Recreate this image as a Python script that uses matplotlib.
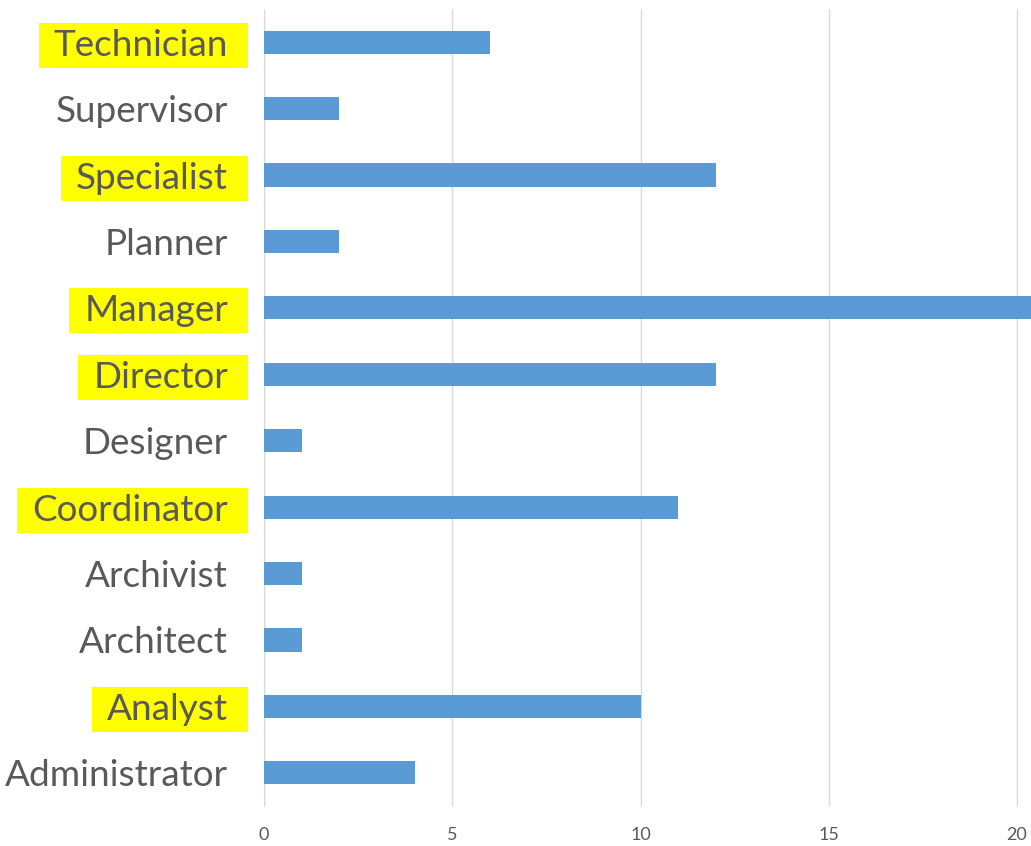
import matplotlib
matplotlib.use("Agg")
import matplotlib.pyplot as plt
from matplotlib.patches import Rectangle

categories = ["Administrator", "Analyst", "Architect", "Archivist", "Coordinator",
              "Designer", "Director", "Manager", "Planner", "Specialist",
              "Supervisor", "Technician"]
values = [4, 10, 1, 1, 11, 1, 12, 21, 2, 12, 2, 6]
highlighted = ["Analyst", "Coordinator", "Director", "Manager", "Specialist", "Technician"]
x_ticks = [0, 5, 10, 15, 20]

plt.rcParams['font.family'] = ['Lato', 'DejaVu Sans']
TXT = "#595959"

fig = plt.figure(figsize=(10.31, 8.46), dpi=100)
ax = fig.add_axes([264/1031, 1-806/846, 1-264/1031, (806-9)/846])

ypos = list(range(len(categories)))
ax.barh(ypos, values, height=0.35, color="#5B9BD5", zorder=3)
ax.set_xlim(0, 20.37)
ax.set_ylim(-0.5, len(categories)-0.5)
ax.set_xticks(x_ticks)
ax.set_xticklabels([str(t) for t in x_ticks], fontsize=13, color=TXT)
ax.set_yticks(ypos)
ax.set_yticklabels(categories, fontsize=26.6, color=TXT)
ax.tick_params(axis='y', length=0, pad=26)
ax.tick_params(axis='x', length=0, pad=15)
ax.grid(axis='x', color="#D9D9D9", linewidth=1, zorder=0)
for s in ["top", "right", "bottom"]:
    ax.spines[s].set_visible(False)
ax.spines["left"].set_color("#D9D9D9")
ax.spines["left"].set_zorder(1)

fig.canvas.draw()
renderer = fig.canvas.get_renderer()
for lab in ax.get_yticklabels():
    if lab.get_text() in highlighted:
        ext = lab.get_window_extent(renderer)
        yc = (ext.y0 + ext.y1) / 2
        x0 = ext.x0 - 15
        x1 = 248
        h = 45
        rect = Rectangle((x0, yc - h/2), x1 - x0, h, transform=None,
                         facecolor="#FFFF00", edgecolor="none", zorder=-1)
        fig.patches.append(rect)

fig.savefig("out.png", dpi=100)
